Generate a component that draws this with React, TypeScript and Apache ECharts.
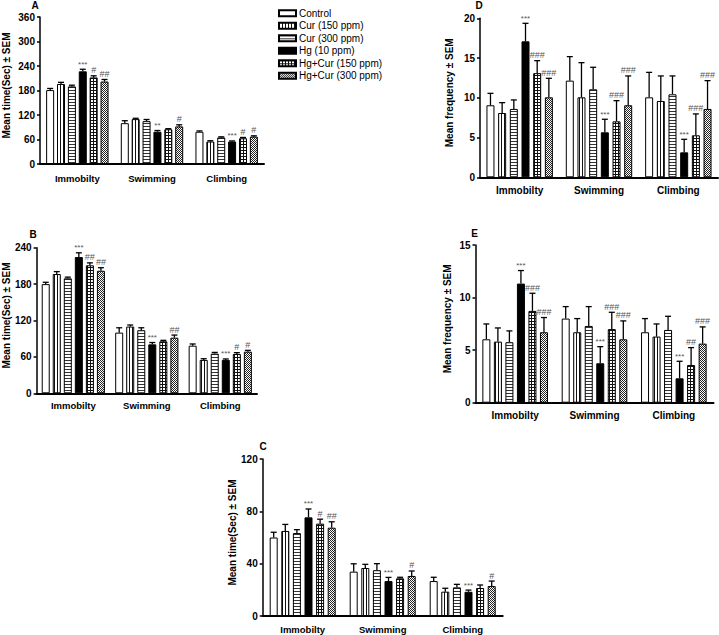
import React, { useEffect, useRef } from "react";
import * as echarts from "echarts";

const categories = ["Immobilty", "Swimming", "Climbing"];
const groupNames = [
  "Control",
  "Cur (150 ppm)",
  "Cur (300 ppm)",
  "Hg (10 ppm)",
  "Hg+Cur (150 ppm)",
  "Hg+Cur (300 ppm)",
];

// rows = behaviour (Immobilty, Swimming, Climbing); columns = group
// Panel A – mean time (s)
const meansA = [
  [181, 196, 190, 227, 212, 202],
  [100, 110, 105, 79, 85, 92],
  [79, 55, 65, 55, 63, 67],
];
const semA = [
  [4, 4, 3, 5, 4, 5],
  [6, 2, 4, 3, 1.5, 4],
  [2, 2, 1.5, 1.5, 2, 2],
];
const marksA = [
  ["", "", "", "***", "#", "##"],
  ["", "", "", "**", "", "#"],
  ["", "", "", "***", "#", "#"],
];

// Panel B – mean time (s)
const meansB = [
  [180, 196.6, 189.5, 224.6, 211, 202],
  [100, 110, 104, 80.7, 85.7, 91.7],
  [78.5, 55, 65.4, 55, 64.8, 68.6],
];
const semB = [
  [3, 4, 2, 7, 4, 5],
  [8, 2.6, 4, 3, 1.6, 4.3],
  [2.8, 2, 2, 1.6, 2.2, 2.2],
];
const marksB = [
  ["", "", "", "***", "##", "##"],
  ["", "", "", "***", "", "##"],
  ["", "", "", "***", "#", "#"],
];

// Panel C – mean time (s)
const meansC = [
  [60, 65, 63.4, 75.4, 70.6, 67.5],
  [33.9, 36.7, 35, 26.7, 28.8, 30.6],
  [26.7, 18.6, 21.9, 18.5, 21.4, 22.9],
];
const semC = [
  [4, 5, 2.6, 6.4, 3.4, 4.5],
  [6, 2.8, 5, 2.8, 0.8, 3.8],
  [2.9, 2.6, 2.3, 1.3, 2.3, 3.8],
];
const marksC = [
  ["", "", "", "***", "#", "##"],
  ["", "", "", "***", "", "#"],
  ["", "", "", "***", "", "#"],
];

// Panel D – mean frequency
const meansD = [
  [9.06, 8.09, 8.6, 17.1, 13.1, 10.06],
  [12.16, 10.06, 11.07, 5.66, 7.04, 9.06],
  [10.06, 9.6, 10.44, 3.14, 5.28, 8.6],
];
const semD = [
  [1.5, 1.3, 1.13, 2.27, 1.57, 2.39],
  [3.02, 4.36, 2.77, 1.64, 2.6, 3.69],
  [3.14, 3.15, 2.31, 1.64, 2.69, 3.56],
];
const marksD = [
  ["", "", "", "***", "###", "###"],
  ["", "", "", "***", "###", "###"],
  ["", "", "", "***", "###", "###"],
];

// Panel E – mean frequency
const meansE = [
  [6.03, 5.81, 5.75, 11.33, 8.73, 6.7],
  [8.0, 6.7, 7.3, 3.75, 7.0, 6.03],
  [6.7, 6.29, 6.92, 2.32, 3.59, 5.62],
];
const semE = [
  [1.46, 1.3, 1.08, 1.24, 1.68, 1.4],
  [1.14, 1.3, 1.84, 1.58, 1.6, 1.75],
  [1.3, 1.2, 1.3, 1.62, 1.65, 1.59],
];
const marksE = [
  ["", "", "", "***", "###", "###"],
  ["", "", "", "***", "###", "###"],
  ["", "", "", "***", "##", "###"],
];

const FONT = "'Liberation Sans', Arial, Helvetica, sans-serif";

function makeTile(w: number, h: number, draw: (ctx: CanvasRenderingContext2D) => void) {
  const c = document.createElement("canvas");
  c.width = w;
  c.height = h;
  const ctx = c.getContext("2d")!;
  ctx.fillStyle = "#fff";
  ctx.fillRect(0, 0, w, h);
  draw(ctx);
  return { image: c.toDataURL(), repeat: "repeat", imageWidth: w, imageHeight: h } as any;
}

function buildFills() {
  const vert = makeTile(3, 1, (ctx) => {
    ctx.fillStyle = "#111";
    ctx.fillRect(0, 0, 1, 1);
  });
  const horiz = makeTile(1, 3, (ctx) => {
    ctx.fillStyle = "#333";
    ctx.fillRect(0, 0, 1, 1);
  });
  const grid = makeTile(3, 3, (ctx) => {
    ctx.fillStyle = "#111";
    ctx.fillRect(0, 0, 3, 1);
    ctx.fillRect(0, 0, 1, 3);
  });
  const checker = makeTile(2, 2, (ctx) => {
    ctx.fillStyle = "#222";
    ctx.fillRect(0, 0, 1, 1);
    ctx.fillRect(1, 1, 1, 1);
  });
  return ["#ffffff", vert, horiz, "#000000", grid, checker];
}

type Panel = {
  letter: string;
  means: number[][];
  sem: number[][];
  marks: string[][];
  max: number;
  interval: number;
  yName: string;
  grid: { left: number; top: number; width: number; height: number };
  barW: number;
  gap: number;
  catFont: number;
  catMargin: number;
  nameGap: number;
  letterPos: [number, number];
};

export default function App() {
  const ref = useRef<HTMLDivElement>(null);

  useEffect(() => {
    document.body.style.margin = "0";
    if (!ref.current) return;
    const chart = echarts.init(ref.current, undefined, { renderer: "svg" });
    const fills = buildFills();

    const panels: Panel[] = [
      {
        letter: "A", means: meansA, sem: semA, marks: marksA, max: 360, interval: 60,
        yName: "Mean time(Sec) ± SEM",
        grid: { left: 39, top: 17, width: 225, height: 147 },
        barW: 8, gap: 0.36, catFont: 9.5, catMargin: 9, nameGap: 29, letterPos: [35, 5.5],
      },
      {
        letter: "B", means: meansB, sem: semB, marks: marksB, max: 240, interval: 60,
        yName: "Mean time(Sec) ± SEM",
        grid: { left: 36, top: 247.7, width: 221, height: 145.6 },
        barW: 8, gap: 0.38, catFont: 9.5, catMargin: 7, nameGap: 25, letterPos: [33, 234],
      },
      {
        letter: "C", means: meansC, sem: semC, marks: marksC, max: 120, interval: 40,
        yName: "Mean time(Sec) ± SEM",
        grid: { left: 262.7, top: 459, width: 240, height: 157 },
        barW: 8, gap: 0.45, catFont: 9.5, catMargin: 8, nameGap: 25.5, letterPos: [263, 446],
      },
      {
        letter: "D", means: meansD, sem: semD, marks: marksD, max: 20, interval: 5,
        yName: "Mean frequency ± SEM",
        grid: { left: 480, top: 18.3, width: 238, height: 159 },
        barW: 8, gap: 0.46, catFont: 10, catMargin: 8, nameGap: 25.5, letterPos: [479, 5.5],
      },
      {
        letter: "E", means: meansE, sem: semE, marks: marksE, max: 15, interval: 5,
        yName: "Mean frequency ± SEM",
        grid: { left: 475.5, top: 245, width: 238, height: 157.7 },
        barW: 8, gap: 0.44, catFont: 10, catMargin: 8, nameGap: 23.5, letterPos: [474.5, 233],
      },
    ];

    const grids: any[] = [];
    const xAxes: any[] = [];
    const yAxes: any[] = [];
    const series: any[] = [];
    const graphics: any[] = [];

    panels.forEach((p, gi) => {
      grids.push({ ...p.grid, containLabel: false });
      xAxes.push({
        type: "category",
        gridIndex: gi,
        data: categories,
        axisTick: { show: false },
        axisLine: { lineStyle: { color: "#000", width: 2 } },
        axisLabel: {
          color: "#000", fontWeight: "bold", fontSize: p.catFont,
          fontFamily: FONT, margin: p.catMargin,
        },
      });
      yAxes.push({
        type: "value",
        gridIndex: gi,
        min: 0,
        max: p.max,
        interval: p.interval,
        name: p.yName,
        nameLocation: "middle",
        nameGap: p.nameGap,
        nameTextStyle: {
          color: "#000", fontWeight: "bold", fontSize: 10, fontFamily: FONT,
          padding: [0, 0, 0, 10],
        },
        axisLine: { show: true, lineStyle: { color: "#000", width: 1.5 } },
        axisTick: { show: true, length: 3, lineStyle: { color: "#000", width: 1.5 } },
        splitLine: { show: false },
        axisLabel: {
          color: "#000", fontWeight: "bold", fontSize: 10, fontFamily: FONT, margin: 5,
        },
      });

      groupNames.forEach((name, g) => {
        series.push({
          type: "bar",
          name,
          xAxisIndex: gi,
          yAxisIndex: gi,
          barWidth: p.barW,
          barGap: `${Math.round(p.gap * 100)}%`,
          data: p.means.map((row) => row[g]),
          itemStyle: { color: fills[g], borderColor: "#000", borderWidth: 1 },
          emphasis: { disabled: true },
        });
      });

      const data: number[][] = [];
      const labels: string[] = [];
      p.means.forEach((row, c) =>
        row.forEach((v, g) => {
          data.push([c, g, v, v + p.sem[c][g]]);
          labels.push(p.marks[c][g]);
        })
      );
      const barW = p.barW;
      const gap = p.gap;
      series.push({
        type: "custom",
        xAxisIndex: gi,
        yAxisIndex: gi,
        z: 5,
        silent: true,
        encode: { x: 0, y: [2, 3] },
        data,
        renderItem: (params: any, api: any) => {
          const c = api.value(0);
          const g = api.value(1);
          const v = api.value(2);
          const t = api.value(3);
          const p0 = api.coord([c, v]);
          const p1 = api.coord([c, t]);
          const pitch = barW * (1 + gap);
          const groupW = 6 * barW + 5 * barW * gap;
          const x = p0[0] - groupW / 2 + g * pitch + barW / 2;
          const mark = labels[params.dataIndex];
          const children: any[] = [
            {
              type: "line",
              shape: { x1: x, y1: p0[1], x2: x, y2: p1[1] },
              style: { stroke: "#000", lineWidth: 1.3 },
            },
            {
              type: "line",
              shape: { x1: x - 3, y1: p1[1], x2: x + 3, y2: p1[1] },
              style: { stroke: "#000", lineWidth: 1.3 },
            },
          ];
          if (mark) {
            children.push({
              type: "text",
              style: {
                text: mark,
                x: x,
                y: p1[1] - 1,
                align: "center",
                verticalAlign: "bottom",
                fontSize: mark.startsWith("*") ? 8 : 9,
                fontFamily: FONT,
                fill: "#555",
              },
            });
          }
          return { type: "group", children };
        },
      });

      graphics.push({
        type: "text",
        x: p.letterPos[0],
        y: p.letterPos[1],
        style: {
          text: p.letter,
          fontSize: 10,
          fontWeight: "bold",
          fontFamily: FONT,
          fill: "#000",
          align: "center",
          verticalAlign: "middle",
        },
      });
    });

    chart.setOption({
      animation: false,
      backgroundColor: "#fff",
      legend: {
        data: groupNames,
        orient: "vertical",
        left: 273,
        top: 3.3,
        itemWidth: 17,
        itemHeight: 6,
        itemGap: 2.5,
        icon: "rect",
        selectedMode: false,
        textStyle: { color: "#000", fontSize: 10, fontFamily: FONT, padding: [0, 0, 0, -2] },
      },
      grid: grids,
      xAxis: xAxes,
      yAxis: yAxes,
      series,
      graphic: graphics,
    });

    return () => chart.dispose();
  }, []);

  return (
    <div
      ref={ref}
      style={{ position: "absolute", left: 0, top: 0, width: 719, height: 635 }}
    />
  );
}
